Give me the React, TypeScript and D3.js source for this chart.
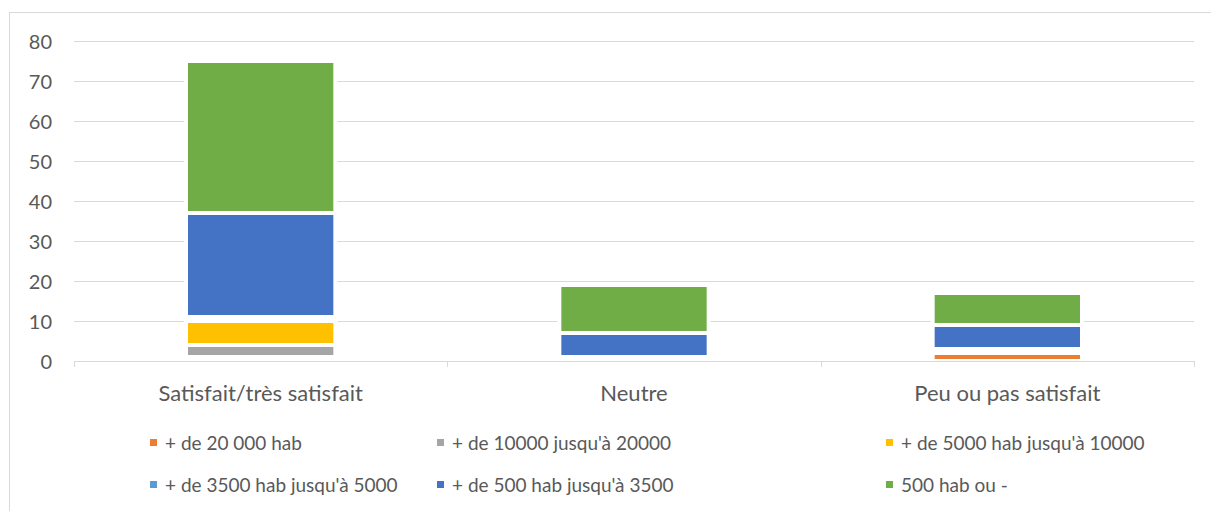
import * as React from "react";
import * as d3 from "d3";

const categories = ["Satisfait/très satisfait", "Neutre", "Peu ou pas satisfait"];

const seriesNames = [
  "+ de 20 000 hab",
  "+ de 10000 jusqu'à 20000",
  "+ de 5000 hab jusqu'à 10000",
  "+ de 3500 hab jusqu'à 5000",
  "+ de 500 hab jusqu'à 3500",
  "500 hab ou -",
];

const seriesColors = ["#ED7D31", "#A5A5A5", "#FFC000", "#5B9BD5", "#4472C4", "#70AD47"];

// one array per series, values per category
const over20000 = [1, 0, 2];
const from10000 = [3, 0, 0];
const from5000 = [6, 0, 0];
const from3500 = [1, 1, 1];
const from500 = [26, 6, 6];
const under500 = [38, 12, 8];

const yTicks = [0, 10, 20, 30, 40, 50, 60, 70, 80];

const seriesValues = [over20000, from10000, from5000, from3500, from500, under500];

type Row = { category: string; [key: string]: number | string };

function App() {
  const width = 1211;
  const height = 511;
  const margin = { left: 74, right: 17, top: 41, bottom: 150 };
  const plotW = width - margin.left - margin.right;
  const plotH = height - margin.top - margin.bottom;

  const table: Row[] = categories.map((c, i) => {
    const row: Row = { category: c };
    seriesNames.forEach((s, j) => {
      row[s] = seriesValues[j][i];
    });
    return row;
  });

  const stacked = d3.stack<Row>().keys(seriesNames)(table);

  const xScale = d3
    .scaleBand()
    .domain(categories)
    .range([0, plotW])
    .paddingInner(0.6)
    .paddingOuter(0.3);

  const yScale = d3.scaleLinear().domain([0, 80]).range([plotH, 0]);

  const step = xScale.step();
  const textColor = "#595959";
  const gridColor = "#D9D9D9";
  const font = "Lato, 'Noto Sans', sans-serif";

  const legendCols = [150, 437, 886];
  const legendRows = [442, 484];

  return (
    <div style={{ position: "fixed", left: 0, top: 0 }}>
      <svg width={width} height={height} style={{ display: "block", background: "#fff" }}>
        <rect x={9.5} y={12.5} width={width} height={height} fill="none" stroke={gridColor} />
        <g transform={`translate(${margin.left}, ${margin.top})`}>
          {/* gridlines */}
          {yTicks.slice(1).map((t) => (
            <line
              key={t}
              x1={0}
              x2={plotW}
              y1={Math.round(yScale(t)) + 0.5}
              y2={Math.round(yScale(t)) + 0.5}
              stroke={gridColor}
            />
          ))}
          {/* bars */}
          {stacked.map((layer, j) => (
            <g key={layer.key} fill={seriesColors[j]}>
              {layer.map((d, i) =>
                d[1] - d[0] > 0 ? (
                  <rect
                    key={i}
                    x={xScale(categories[i])}
                    width={xScale.bandwidth()}
                    y={yScale(d[1])}
                    height={yScale(d[0]) - yScale(d[1])}
                    stroke="#fff"
                    strokeWidth={4}
                  />
                ) : null
              )}
            </g>
          ))}
          {/* x axis */}
          <line x1={0} x2={plotW} y1={plotH + 0.5} y2={plotH + 0.5} stroke={gridColor} />
          {[0, 1, 2, 3].map((i) => (
            <line
              key={i}
              x1={Math.round(i * step) + 0.5}
              x2={Math.round(i * step) + 0.5}
              y1={plotH}
              y2={plotH + 6}
              stroke={gridColor}
            />
          ))}
          {categories.map((c) => (
            <text
              key={c}
              x={(xScale(c) ?? 0) + xScale.bandwidth() / 2}
              y={plotH + 31}
              textAnchor="middle"
              dominantBaseline="central"
              fontFamily={font}
              fontSize={22}
              fill={textColor}
            >
              {c}
            </text>
          ))}
          {/* y axis labels */}
          {yTicks.map((t) => (
            <text
              key={t}
              x={-22}
              y={yScale(t)}
              textAnchor="end"
              dominantBaseline="central"
              fontFamily={font}
              fontSize={20}
              fill={textColor}
            >
              {t}
            </text>
          ))}
        </g>
        {/* legend */}
        {seriesNames.map((s, j) => {
          const cx = legendCols[j % 3];
          const cy = legendRows[Math.floor(j / 3)];
          return (
            <g key={s}>
              <rect x={cx} y={cy - 3} width={7} height={7} fill={seriesColors[j]} />
              <text
                x={cx + 15}
                y={cy}
                dominantBaseline="central"
                fontFamily={font}
                fontSize={19}
                fill={textColor}
              >
                {s}
              </text>
            </g>
          );
        })}
      </svg>
    </div>
  );
}

export default App;
